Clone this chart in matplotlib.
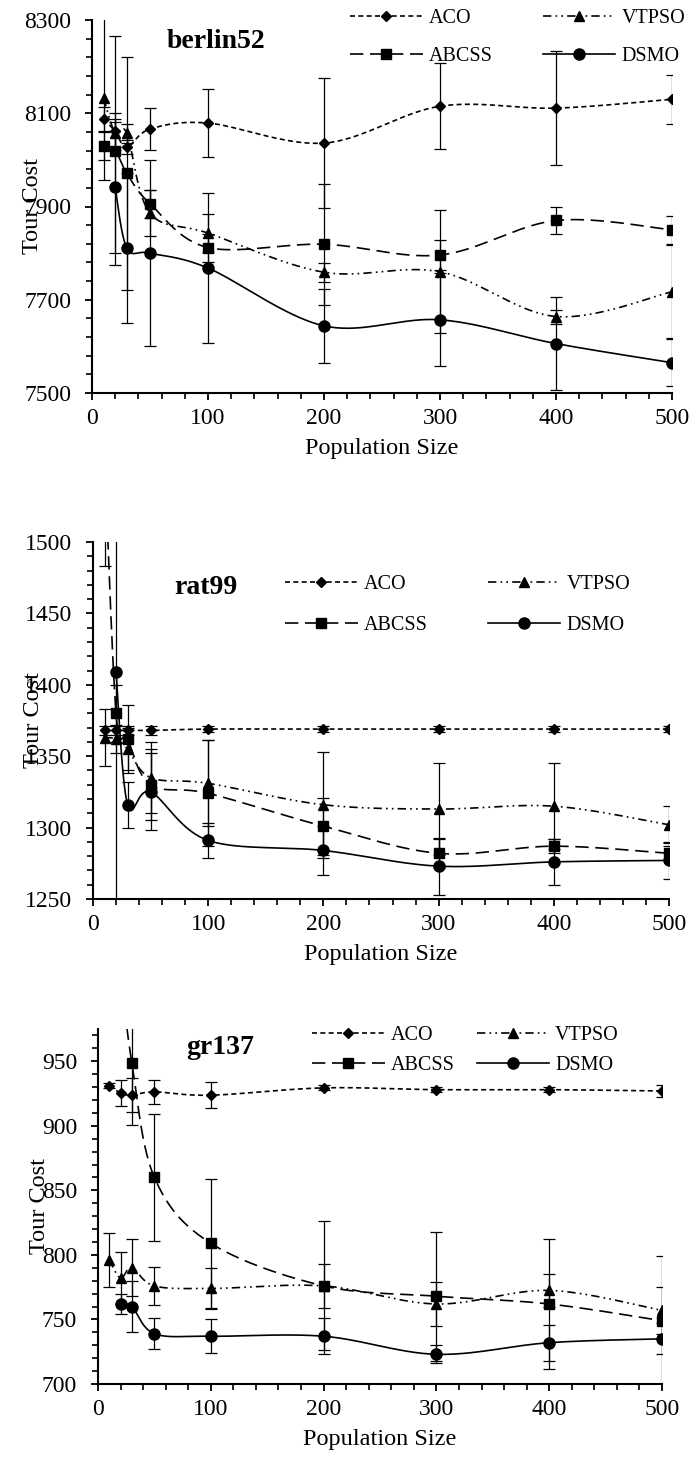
import numpy as np
import matplotlib.pyplot as plt
from matplotlib.lines import Line2D

plt.rcParams['font.family'] = ['Liberation Serif', 'DejaVu Serif']

pop_size = [10, 20, 30, 50, 100, 200, 300, 400, 500]
series_names = ['ACO', 'VTPSO', 'ABCSS', 'DSMO']

# berlin52
berlin_aco = [8088, 8061, 8027, 8066, 8079, 8036, 8115, 8111, 8130]
berlin_aco_err = [25, 40, 15, 45, 73, 140, 92, 122, 53]
berlin_vtpso = [8132, 8057, 8057, 7886, 7843, 7759, 7760, 7664, 7717]
berlin_vtpso_err = [175, 30, 20, 50, 40, 20, 132, 15, 100]
berlin_abcss = [8030, 8020, 7971, 7906, 7812, 7819, 7796, 7870, 7850]
berlin_abcss_err = [30, 245, 250, 30, 30, 130, 32, 30, 30]
berlin_dsmo = [np.nan, 7941, 7811, 7800, 7768, 7644, 7657, 7606, 7565]
berlin_dsmo_err = [0, 140, 160, 200, 160, 80, 100, 100, 50]

# rat99
rat_aco = [1368, 1368, 1368, 1368, 1369, 1369, 1369, 1369, 1369]
rat_aco_err = [3, 3, 3, 3, 2, 2, 2, 2, 2]
rat_vtpso = [1363, 1362, 1355, 1335, 1331, 1316, 1313, 1315, 1302]
rat_vtpso_err = [20, 10, 15, 25, 30, 37, 32, 30, 13]
rat_abcss = [1560, 1380, 1362, 1330, 1324, 1301, 1282, 1287, 1282]
rat_abcss_err = [77, 20, 24, 25, 37, 20, 10, 5, 5]
rat_dsmo = [np.nan, 1409, 1316, 1325, 1291, 1284, 1273, 1276, 1277]
rat_dsmo_err = [0, 175, 16, 27, 12, 17, 20, 16, 13]

# gr137
gr_aco = [931, 925.5, 923.7, 926.3, 923.7, 929.4, 928, 928, 927]
gr_aco_err = [2, 10, 13, 9.5, 10, 2, 2, 2, 5]
gr_vtpso = [796, 782, 790, 776, 774, 776, 762, 772.5, 757]
gr_vtpso_err = [21, 20, 22, 15, 16, 17, 17, 13, 18]
gr_abcss = [1100, 1020, 949, 860, 809, 776, 768, 762, 749]
gr_abcss_err = [30, 30, 48, 49, 50, 50, 50, 50, 50]
gr_dsmo = [np.nan, 762, 760, 739, 737, 737, 723, 732, 735]
gr_dsmo_err = [0, 8, 20, 12, 13, 14, 7, 14, 12]

styles = {
    'ACO': dict(marker='D', ms=5, dashes=(3, 2)),
    'VTPSO': dict(marker='^', ms=6.5, dashes=(5, 2.5, 1, 2.5, 1, 2.5)),
    'ABCSS': dict(marker='s', ms=6.5, dashes=(8, 4)),
    'DSMO': dict(marker='o', ms=8, dashes=None),
}

W, H = 692, 1459
fig = plt.figure(figsize=(W / 100, H / 100), dpi=100)


def smooth(ax, x, y, n=40):
    # excel style smoothed line (catmull-rom bezier) done in pixel space of the axes
    x = np.asarray(x, float)
    y = np.asarray(y, float)
    ok = ~np.isnan(y)
    x, y = x[ok], y[ok]
    x0, x1 = ax.get_xlim()
    y0, y1 = ax.get_ylim()
    pos = ax.get_position()
    sw, sh = pos.width * W, pos.height * H
    p = np.column_stack([(x - x0) / (x1 - x0) * sw, (y - y0) / (y1 - y0) * sh])
    out = []
    t = np.linspace(0, 1, n)[:, None]
    for i in range(len(p) - 1):
        pa = p[max(i - 1, 0)]
        pb, pc = p[i], p[i + 1]
        pd = p[min(i + 2, len(p) - 1)]
        c1 = pb + (pc - pa) / 6
        c2 = pc - (pd - pb) / 6
        seg = (1 - t) ** 3 * pb + 3 * (1 - t) ** 2 * t * c1 + 3 * (1 - t) * t ** 2 * c2 + t ** 3 * pc
        out.append(seg)
    out = np.vstack(out)
    return out[:, 0] / sw * (x1 - x0) + x0, out[:, 1] / sh * (y1 - y0) + y0


def line_kw(name):
    st = styles[name]
    kw = dict(color='black', lw=1.2)
    if st['dashes'] is None:
        kw['linestyle'] = '-'
    else:
        kw['dashes'] = st['dashes']
    return kw


panels = [
    dict(title='berlin52', rect=(92, 20, 672, 393), ylim=(7500, 8300), major=200, minor=40,
         data=[(berlin_aco, berlin_aco_err), (berlin_vtpso, berlin_vtpso_err),
               (berlin_abcss, berlin_abcss_err), (berlin_dsmo, berlin_dsmo_err)],
         title_pos=(216, 42), leg_pos=(350, 9), colsp=2.5, labsp=0.95),
    dict(title='rat99', rect=(93, 542, 669, 899), ylim=(1250, 1500), major=50, minor=10,
         data=[(rat_aco, rat_aco_err), (rat_vtpso, rat_vtpso_err),
               (rat_abcss, rat_abcss_err), (rat_dsmo, rat_dsmo_err)],
         title_pos=(206, 587), leg_pos=(285, 575), colsp=3.0, labsp=1.1),
    dict(title='gr137', rect=(98, 1029, 662, 1384), ylim=(700, 975), major=50, minor=10,
         data=[(gr_aco, gr_aco_err), (gr_vtpso, gr_vtpso_err),
               (gr_abcss, gr_abcss_err), (gr_dsmo, gr_dsmo_err)],
         title_pos=(220, 1048), leg_pos=(312, 1026), colsp=1.1, labsp=0.55),
]

for pnl in panels:
    l, t, r, b = pnl['rect']
    ax = fig.add_axes([l / W, 1 - b / H, (r - l) / W, (b - t) / H])
    ax.set_xlim(0, 500)
    y0, y1 = pnl['ylim']
    ax.set_ylim(y0, y1)

    handles = {}
    for name, (vals, errs) in zip(series_names, pnl['data']):
        st = styles[name]
        ax.errorbar(pop_size, vals, yerr=errs, fmt='none', ecolor='black',
                    elinewidth=0.9, capsize=4, capthick=0.9)
        sx, sy = smooth(ax, pop_size, vals)
        ax.plot(sx, sy, **line_kw(name))
        ax.plot(pop_size, vals, linestyle='none', marker=st['marker'], ms=st['ms'], color='black')
        handles[name] = Line2D([], [], marker=st['marker'], ms=st['ms'], **line_kw(name))

    order = ['ACO', 'ABCSS', 'VTPSO', 'DSMO']
    lx, ly = pnl['leg_pos']
    ax.legend([handles[k] for k in order], order, ncol=2, frameon=False, fontsize=14.5,
              loc='upper left', bbox_to_anchor=(lx / W, 1 - ly / H), bbox_transform=fig.transFigure,
              borderpad=0, borderaxespad=0, handlelength=3.6, handletextpad=0.3,
              columnspacing=pnl['colsp'], labelspacing=pnl['labsp'], numpoints=1)

    tx, ty = pnl['title_pos']
    fig.text(tx / W, 1 - ty / H, pnl['title'], fontsize=20, fontweight='bold', ha='center', va='center')

    ax.set_xticks(range(0, 501, 100))
    ax.set_xticks(range(0, 501, 20), minor=True)
    ax.set_yticks(np.arange(y0, y1 + 1, pnl['major']))
    ax.set_yticks(np.arange(y0, y1 + 1, pnl['minor']), minor=True)
    ax.tick_params(which='major', direction='out', length=5, width=1.3, labelsize=17)
    ax.tick_params(axis='y', which='major', pad=10)
    ax.tick_params(axis='x', which='major', pad=6)
    ax.tick_params(which='minor', direction='out', length=4, width=1.2)
    for side in ['top', 'right']:
        ax.spines[side].set_visible(False)
    for side in ['left', 'bottom']:
        ax.spines[side].set_linewidth(1.5)
    ax.set_xlabel('Population Size', fontsize=17.5, labelpad=6)
    ax.set_ylabel('Tour Cost', fontsize=17.5)
    ax.yaxis.set_label_coords(-0.085, 0.5)

fig.savefig('out.png', dpi=100)
